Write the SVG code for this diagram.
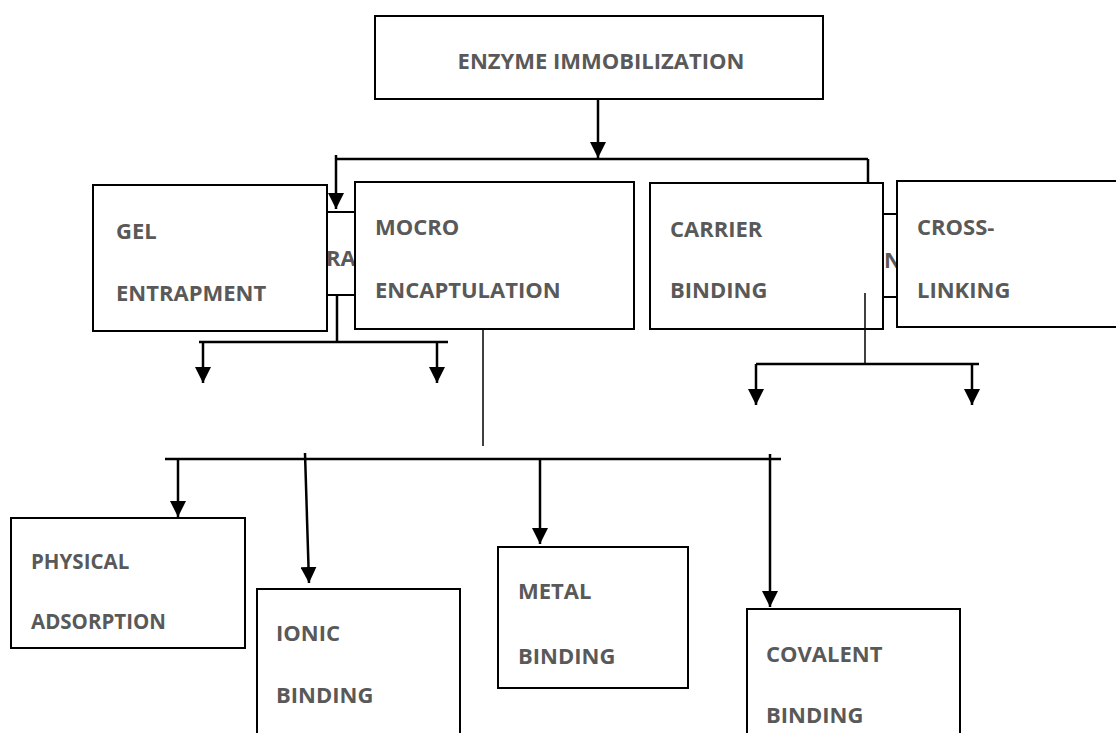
<svg xmlns="http://www.w3.org/2000/svg" width="1116" height="733" viewBox="0 0 1116 733">
<style>
.box{fill:#fff;stroke:#000;stroke-width:2}
.t{font-family:"Open Sans","Liberation Sans",sans-serif;font-weight:bold;font-size:22px;fill:#595959}
.ts{font-family:"Open Sans","Liberation Sans",sans-serif;font-weight:bold;font-size:20.5px;fill:#595959}
.c{fill:none;stroke:#000;stroke-width:2.5}
.thin{fill:none;stroke:#000;stroke-width:1.5}
</style>
<defs>
<marker id="ah" markerUnits="userSpaceOnUse" markerWidth="17" markerHeight="16" refX="16" refY="8" orient="auto" viewBox="0 0 17 16">
<path d="M0,0 L16,8 L0,16 Z" fill="#000"/>
</marker>
<clipPath id="gap1"><rect x="328" y="213" width="26" height="81"/></clipPath>
<clipPath id="gap2"><rect x="884" y="215" width="12" height="81"/></clipPath>
</defs>
<rect width="1116" height="733" fill="#fff"/>

<g id="hidden1">
<rect class="box" x="300" y="212" width="80" height="83"/>
<text class="t" x="326" y="266" clip-path="url(#gap1)">RAP</text>
</g>
<g id="hidden2">
<rect class="box" x="870" y="214" width="40" height="83"/>
<text class="t" x="884" y="268" clip-path="url(#gap2)">N</text>
</g>

<g id="connectors">
<line class="c" x1="598" y1="99" x2="598" y2="158" marker-end="url(#ah)"/>
<line class="c" x1="336" y1="159" x2="868" y2="159"/>
<line class="c" x1="336" y1="155" x2="336" y2="209" marker-end="url(#ah)"/>
<line class="c" x1="868" y1="159" x2="868" y2="183"/>
<line class="c" x1="337" y1="295" x2="337" y2="342"/>
<line class="c" x1="199" y1="342" x2="448" y2="342"/>
<line class="c" x1="203" y1="342" x2="203" y2="383" marker-end="url(#ah)"/>
<line class="c" x1="437" y1="342" x2="437" y2="383" marker-end="url(#ah)"/>
<line class="thin" x1="865" y1="293" x2="865" y2="365"/>
<line class="c" x1="756" y1="364" x2="979" y2="364"/>
<line class="c" x1="756" y1="364" x2="756" y2="405" marker-end="url(#ah)"/>
<line class="c" x1="972" y1="364" x2="972" y2="405" marker-end="url(#ah)"/>
<line class="thin" x1="483" y1="325" x2="483" y2="446"/>
<line class="c" x1="165" y1="459" x2="781" y2="459"/>
<line class="c" x1="178" y1="459" x2="178" y2="517" marker-end="url(#ah)"/>
<line class="c" x1="305" y1="453" x2="309" y2="583" marker-end="url(#ah)"/>
<line class="c" x1="540" y1="459" x2="540" y2="544" marker-end="url(#ah)"/>
<line class="c" x1="770" y1="454" x2="770" y2="607" marker-end="url(#ah)"/>
</g>

<g id="enzyme-immobilization">
<rect class="box" x="375" y="16" width="448" height="83"/>
<text class="t" x="601" y="69" text-anchor="middle">ENZYME IMMOBILIZATION</text>
</g>
<g id="gel-entrapment">
<rect class="box" x="93" y="185" width="234" height="146"/>
<text class="t" x="116" y="239">GEL</text>
<text class="t" x="116" y="301">ENTRAPMENT</text>
</g>
<g id="mocro-encaptulation">
<rect class="box" x="355" y="182" width="279" height="147"/>
<text class="t" x="375" y="235">MOCRO</text>
<text class="t" x="375" y="298">ENCAPTULATION</text>
</g>
<g id="carrier-binding">
<rect class="box" x="650" y="183" width="233" height="146"/>
<text class="t" x="670" y="237">CARRIER</text>
<text class="t" x="670" y="298">BINDING</text>
<line class="thin" x1="865" y1="293" x2="865" y2="329"/>
</g>
<g id="cross-linking">
<rect class="box" x="897" y="181" width="225" height="146"/>
<text class="t" x="917" y="235">CROSS-</text>
<text class="t" x="917" y="298">LINKING</text>
</g>
<g id="physical-adsorption">
<rect class="box" x="11" y="518" width="234" height="130"/>
<text class="ts" x="31" y="569">PHYSICAL</text>
<text class="ts" x="31" y="629">ADSORPTION</text>
</g>
<g id="ionic-binding">
<rect class="box" x="257" y="589" width="203" height="154"/>
<text class="t" x="276" y="641">IONIC</text>
<text class="t" x="276" y="703">BINDING</text>
</g>
<g id="metal-binding">
<rect class="box" x="498" y="547" width="190" height="141"/>
<text class="t" x="518" y="599">METAL</text>
<text class="t" x="518" y="664">BINDING</text>
</g>
<g id="covalent-binding">
<rect class="box" x="747" y="609" width="213" height="134"/>
<text class="t" x="766" y="662">COVALENT</text>
<text class="t" x="766" y="723">BINDING</text>
</g>
</svg>
